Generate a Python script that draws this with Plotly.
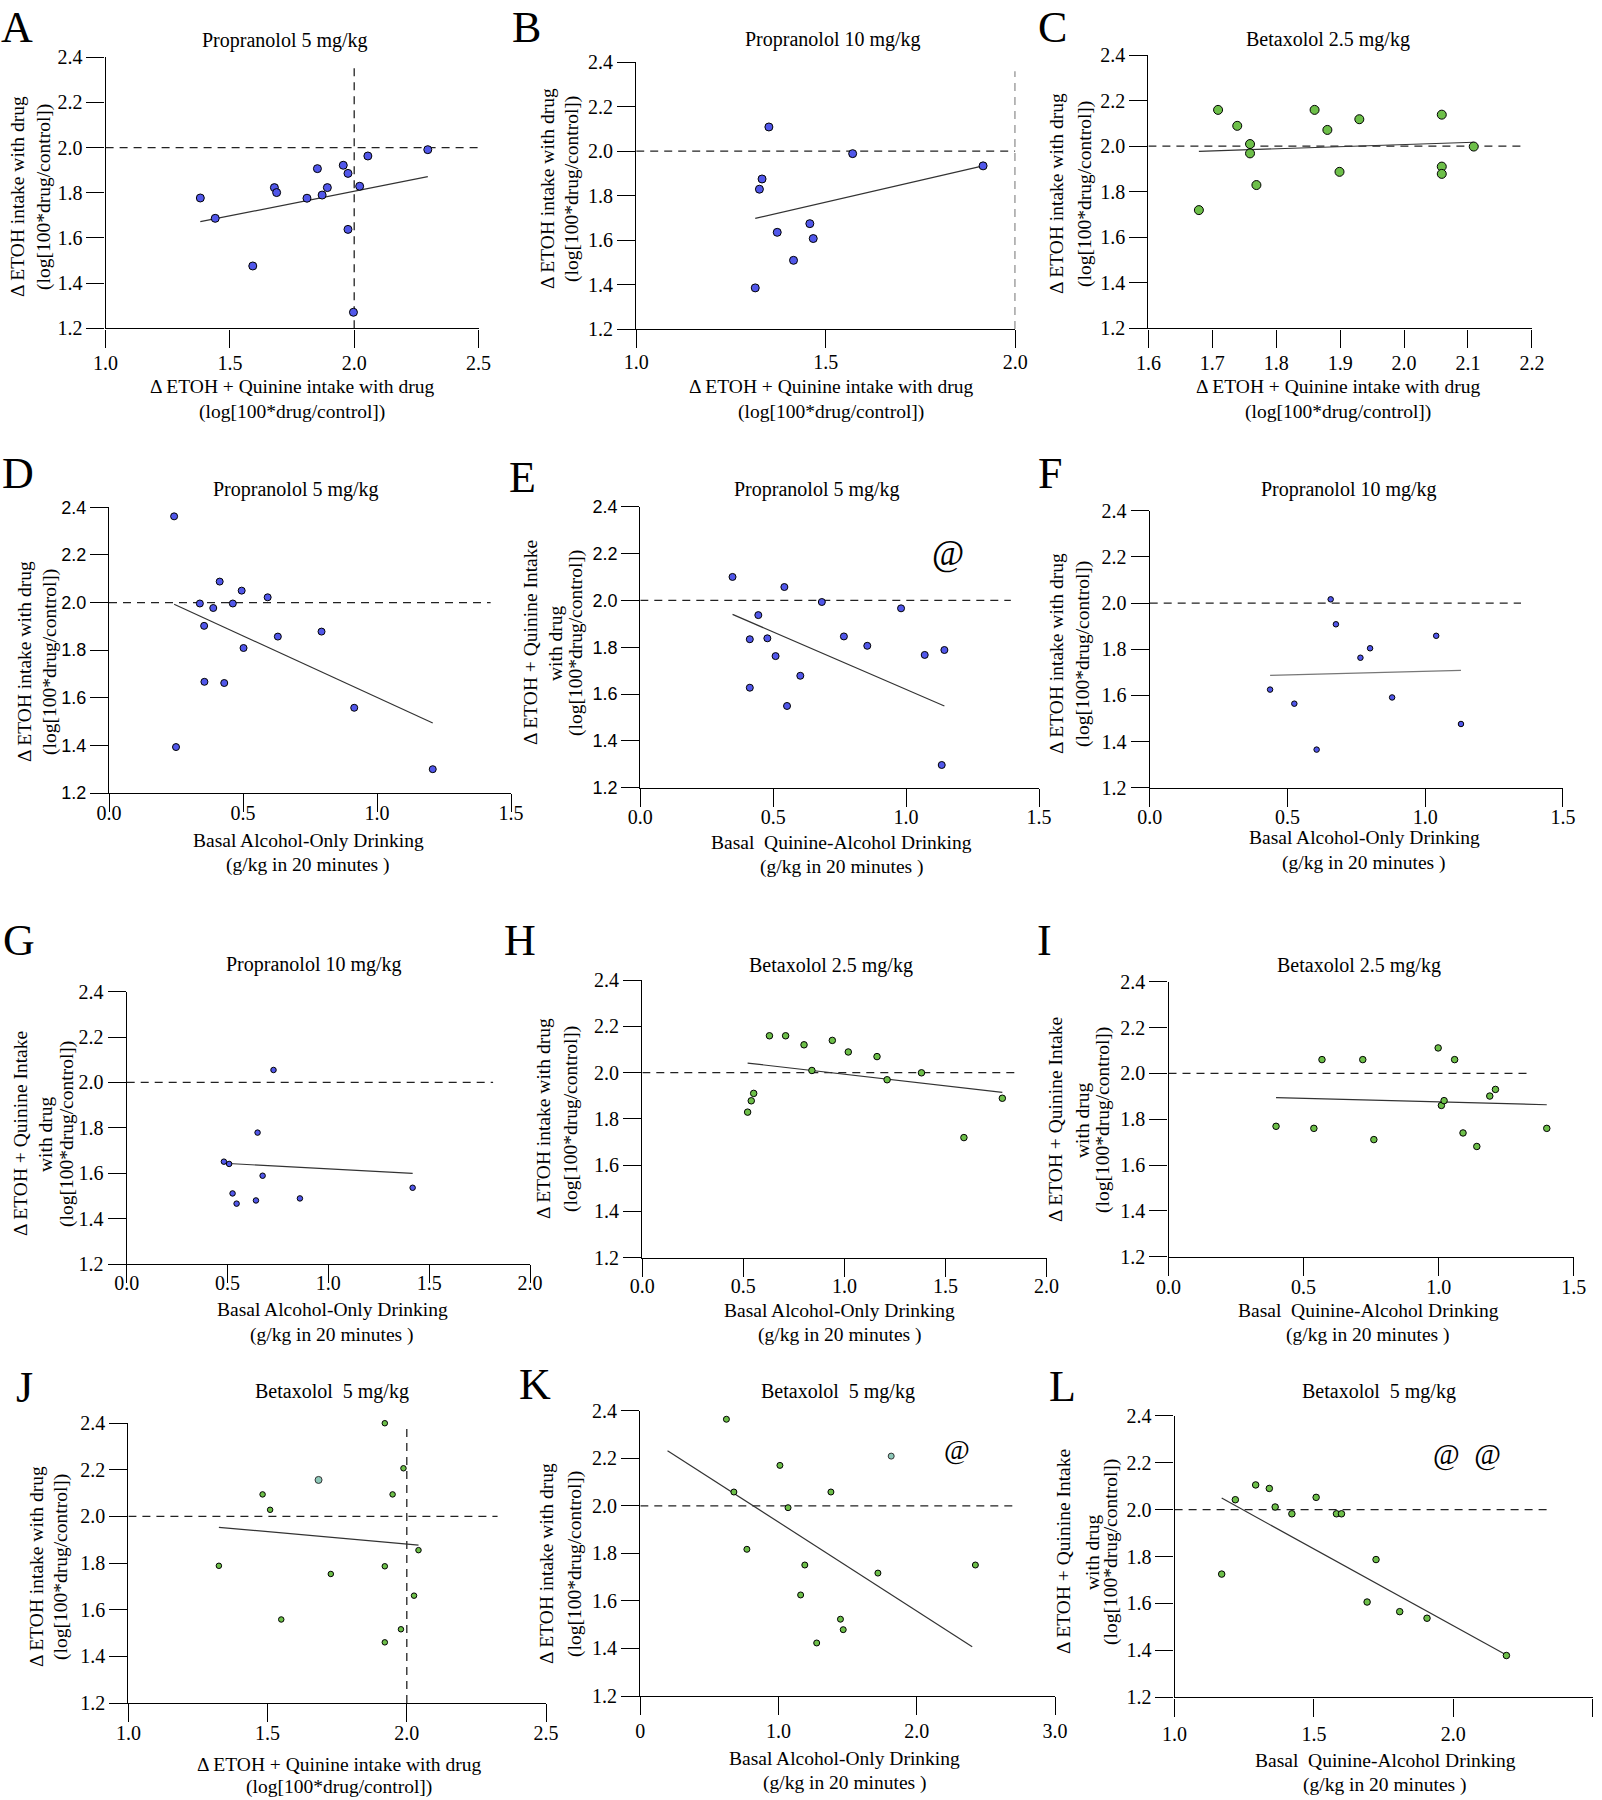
import plotly.graph_objects as go

# ---- values (log[100*drug/control] vs drinking) ----
REF_LEVEL = 2.0          # "no change" dashed line
Y_TICKS = [1.2, 1.4, 1.6, 1.8, 2.0, 2.2, 2.4]
Y_LABELS = ["1.2", "1.4", "1.6", "1.8", "2.0", "2.2", "2.4"]

A_X = [1.381, 1.441, 1.592, 1.679, 1.688, 1.810, 1.852, 1.871, 1.892, 1.956, 1.975, 1.975, 2.022, 2.055, 1.997, 2.296]
A_Y = [1.777, 1.687, 1.476, 1.823, 1.801, 1.776, 1.907, 1.790, 1.823, 1.922, 1.886, 1.638, 1.829, 1.963, 1.271, 1.991]
A_FIT_X, A_FIT_Y = [1.381, 2.296], [1.672, 1.872]
A_HREF, A_VREF = [1.0, 2.5], [1.2, 2.36]

B_X = [1.350, 1.571, 1.332, 1.325, 1.372, 1.458, 1.467, 1.415, 1.314, 1.915]
B_Y = [2.109, 1.989, 1.875, 1.829, 1.635, 1.674, 1.607, 1.509, 1.385, 1.934]
B_FIT_X, B_FIT_Y = [1.314, 1.915], [1.698, 1.934]
B_HREF, B_VREF = [1.0, 2.0], [1.2, 2.36]

C_X = [1.679, 1.709, 1.739, 1.759, 1.759, 1.769, 1.860, 1.880, 1.930, 1.899, 2.059, 2.059, 2.059, 2.109]
C_Y = [1.719, 2.159, 2.089, 2.009, 1.968, 1.829, 2.159, 2.071, 2.118, 1.887, 2.138, 1.910, 1.878, 1.998]
C_FIT_X, C_FIT_Y = [1.679, 2.109], [1.977, 2.017]
C_HREF = [1.6, 2.183]

D_X = [0.243, 0.250, 0.339, 0.355, 0.356, 0.389, 0.413, 0.430, 0.462, 0.495, 0.502, 0.592, 0.630, 0.793, 0.915, 1.208]
D_Y = [2.362, 1.393, 1.996, 1.902, 1.667, 1.977, 2.088, 1.662, 1.996, 2.050, 1.809, 2.022, 1.857, 1.878, 1.558, 1.300]
D_FIT_X, D_FIT_Y = [0.243, 1.208], [1.993, 1.494]
D_HREF = [0.0, 1.424]

E_X = [0.347, 0.542, 0.683, 0.981, 0.444, 0.412, 0.478, 0.509, 0.766, 0.854, 1.070, 1.144, 0.602, 0.412, 0.552, 1.134]
E_Y = [2.100, 2.057, 1.993, 1.966, 1.937, 1.834, 1.838, 1.762, 1.846, 1.806, 1.767, 1.788, 1.678, 1.627, 1.549, 1.297]
E_FIT_X, E_FIT_Y = [0.347, 1.144], [1.940, 1.549]
E_HREF = [0.0, 1.394]

F_X = [0.657, 0.676, 0.765, 0.800, 1.040, 0.437, 0.525, 0.606, 0.880, 1.130]
F_Y = [2.016, 1.908, 1.763, 1.804, 1.858, 1.625, 1.564, 1.365, 1.591, 1.476]
F_FIT_X, F_FIT_Y = [0.437, 1.130], [1.687, 1.708]
F_HREF = [0.0, 1.348]

G_X = [0.728, 0.649, 0.482, 0.508, 0.674, 0.525, 0.545, 0.641, 0.859, 1.418]
G_Y = [2.055, 1.779, 1.651, 1.641, 1.589, 1.511, 1.466, 1.480, 1.489, 1.536]
G_FIT_X, G_FIT_Y = [0.482, 1.418], [1.644, 1.599]
G_HREF = [0.0, 1.817]

H_X = [0.521, 0.539, 0.551, 0.629, 0.709, 0.800, 0.839, 0.940, 1.019, 1.161, 1.211, 1.381, 1.591, 1.781]
H_Y = [1.829, 1.878, 1.910, 2.159, 2.159, 2.120, 2.009, 2.139, 2.089, 2.069, 1.969, 1.999, 1.719, 1.889]
H_FIT_X, H_FIT_Y = [0.521, 1.781], [2.041, 1.914]
H_HREF = [0.0, 1.848]

I_X = [0.398, 0.538, 0.568, 0.719, 0.760, 0.998, 1.059, 1.010, 1.020, 1.090, 1.141, 1.189, 1.210, 1.400]
I_Y = [1.769, 1.760, 2.060, 2.060, 1.711, 2.111, 2.060, 1.860, 1.881, 1.740, 1.681, 1.901, 1.930, 1.760]
I_FIT_X, I_FIT_Y = [0.398, 1.400], [1.894, 1.863]
I_HREF = [0.0, 1.339]

J_X = [1.921, 1.988, 1.482, 1.949, 1.509, 2.042, 1.325, 1.921, 1.727, 2.026, 1.549, 1.979, 1.921]
J_Y = [2.399, 2.206, 2.094, 2.094, 2.028, 1.855, 1.788, 1.786, 1.753, 1.660, 1.558, 1.516, 1.460]
J_ODD_X, J_ODD_Y = [1.683], [2.156]
J_FIT_X, J_FIT_Y = [1.325, 2.042], [1.953, 1.877]
J_HREF, J_VREF = [1.0, 2.326], [1.2, 2.39]

K_X = [0.623, 0.677, 0.771, 1.010, 1.069, 1.379, 1.190, 1.160, 1.276, 1.448, 1.468, 1.719, 2.424]
K_Y = [2.364, 2.058, 1.817, 2.170, 1.992, 2.058, 1.751, 1.625, 1.423, 1.523, 1.479, 1.717, 1.751]
K_ODD_X, K_ODD_Y = [1.815], [2.209]
K_FIT_X, K_FIT_Y = [0.197, 2.401], [2.232, 1.407]
K_HREF = [0.0, 2.704]

L_X = [1.169, 1.218, 1.291, 1.340, 1.361, 1.421, 1.508, 1.581, 1.599, 1.723, 1.691, 1.808, 1.906, 2.191]
L_Y = [1.725, 2.042, 2.105, 2.090, 2.011, 1.982, 2.052, 1.982, 1.982, 1.787, 1.606, 1.565, 1.537, 1.378]
L_FIT_X, L_FIT_Y = [1.169, 2.191], [2.049, 1.380]
L_HREF = [1.0, 2.337]

# axis ticks
T_10_25 = ([1.0, 1.5, 2.0, 2.5], ["1.0", "1.5", "2.0", "2.5"])
T_10_20 = ([1.0, 1.5, 2.0], ["1.0", "1.5", "2.0"])
T_16_22 = ([1.6, 1.7, 1.8, 1.9, 2.0, 2.1, 2.2], ["1.6", "1.7", "1.8", "1.9", "2.0", "2.1", "2.2"])
T_00_15 = ([0.0, 0.5, 1.0, 1.5], ["0.0", "0.5", "1.0", "1.5"])
T_00_20 = ([0.0, 0.5, 1.0, 1.5, 2.0], ["0.0", "0.5", "1.0", "1.5", "2.0"])
T_0_30 = ([0.0, 1.0, 2.0, 3.0], ["0", "1.0", "2.0", "3.0"])

# text
T_ETOH = "Δ ETOH intake with drug"
T_LOG = "(log[100*drug/control])"
T_QI = "Δ ETOH + Quinine Intake"
T_WD = "with drug"
T_QX = "Δ ETOH + Quinine intake with drug"
T_ALC = "Basal Alcohol-Only Drinking"
T_QAL = "Basal\u00a0 Quinine-Alcohol Drinking"
T_GKG = "(g/kg in 20 minutes )"

W, H = 1602, 1800
SERIF = "Liberation Serif, Times New Roman, serif"
SANS = "Liberation Sans, Arial, sans-serif"
BLUE = "#5157ea"
GREEN = "#6dbf49"
TEAL = "#8cc8b8"


def fx(v):
    return v / W


def fy(v):
    return 1 - v / H


# box = (left, right, top, bottom) in pixels; sx = x tick label standoff
panels = [
    dict(let="A", lp=(17, 27), box=(105.6, 478.5, 57.3, 328.3), xr=[1.0, 2.5], xt=T_10_25, sx=-2,
         x=A_X, y=A_Y, fx=A_FIT_X, fy=A_FIT_Y, h=A_HREF, v=A_VREF, c=BLUE, ms=8,
         title=("Propranolol 5 mg/kg", 285, 40), yt=([T_ETOH, T_LOG], [17, 44], 197),
         xtl=([T_QX, T_LOG], 292, [386, 412]), yf=SERIF),
    dict(let="B", lp=(526, 27), box=(636.2, 1015.3, 62.3, 329.0), xr=[1.0, 2.0], xt=T_10_20, sx=-3,
         x=B_X, y=B_Y, fx=B_FIT_X, fy=B_FIT_Y, h=B_HREF, v=B_VREF, c=BLUE, ms=8,
         title=("Propranolol 10 mg/kg", 833, 39), yt=([T_ETOH, T_LOG], [548, 572], 189),
         xtl=([T_QX, T_LOG], 831, [386, 412]), yf=SERIF),
    dict(let="C", lp=(1052, 27), box=(1148.4, 1531.9, 55.0, 328.3), xr=[1.6, 2.2], xt=T_16_22, sx=-2,
         x=C_X, y=C_Y, fx=C_FIT_X, fy=C_FIT_Y, h=C_HREF, v=None, c=GREEN, ms=9,
         title=("Betaxolol 2.5 mg/kg", 1328, 39), yt=([T_ETOH, T_LOG], [1057, 1085], 194),
         xtl=([T_QX, T_LOG], 1338, [386, 412]), yf=SERIF),
    dict(let="D", lp=(18, 474), box=(109, 511, 507.3, 793.0), xr=[0.0, 1.5], xt=T_00_15, sx=-16,
         x=D_X, y=D_Y, fx=D_FIT_X, fy=D_FIT_Y, h=D_HREF, v=None, c=BLUE, ms=7,
         title=("Propranolol 5 mg/kg", 296, 489), yt=([T_ETOH, T_LOG], [24, 50], 662),
         xtl=([T_ALC, T_GKG], 308, [840, 865]), yf=SANS),
    dict(let="E", lp=(522, 477), box=(640.3, 1039, 506.7, 787.7), xr=[0.0, 1.5], xt=T_00_15, sx=-7,
         x=E_X, y=E_Y, fx=E_FIT_X, fy=E_FIT_Y, h=E_HREF, v=None, c=BLUE, ms=7,
         title=("Propranolol 5 mg/kg", 817, 489), yt=([T_QI, T_WD, T_LOG], [530, 555, 576], 643),
         xtl=([T_QAL, T_GKG], 842, [843, 867]), yf=SANS, at=("@", 948, 554, 35)),
    dict(let="F", lp=(1050, 473), box=(1149.7, 1562.9, 510.7, 787.7), xr=[0.0, 1.5], xt=T_00_15, sx=-7,
         x=F_X, y=F_Y, fx=F_FIT_X, fy=F_FIT_Y, h=F_HREF, v=None, c=BLUE, ms=5.5,
         title=("Propranolol 10 mg/kg", 1349, 489), yt=([T_ETOH, T_LOG], [1057, 1083], 654),
         xtl=([T_ALC, T_GKG], 1364, [838, 863]), yf=SERIF, fitc="#777777"),
    dict(let="G", lp=(19, 940), box=(126.7, 530, 991.7, 1264.0), xr=[0.0, 2.0], xt=T_00_20, sx=-17,
         x=G_X, y=G_Y, fx=G_FIT_X, fy=G_FIT_Y, h=G_HREF, v=None, c=BLUE, ms=5.5,
         title=("Propranolol 10 mg/kg", 314, 964), yt=([T_QI, T_WD, T_LOG], [20, 45, 67], 1134),
         xtl=([T_ALC, T_GKG], 332, [1309, 1335]), yf=SERIF),
    dict(let="H", lp=(520, 940), box=(642.3, 1046.6, 980.0, 1257.7), xr=[0.0, 2.0], xt=T_00_20, sx=-8,
         x=H_X, y=H_Y, fx=H_FIT_X, fy=H_FIT_Y, h=H_HREF, v=None, c=GREEN, ms=6.5,
         title=("Betaxolol 2.5 mg/kg", 831, 965), yt=([T_ETOH, T_LOG], [543, 571], 1119),
         xtl=([T_ALC, T_GKG], 840, [1310, 1335]), yf=SERIF),
    dict(let="I", lp=(1044, 940), box=(1168.5, 1573.8, 981.7, 1256.7), xr=[0.0, 1.5], xt=T_00_15, sx=-6,
         x=I_X, y=I_Y, fx=I_FIT_X, fy=I_FIT_Y, h=I_HREF, v=None, c=GREEN, ms=6.5,
         title=("Betaxolol 2.5 mg/kg", 1359, 965), yt=([T_QI, T_WD, T_LOG], [1055, 1082, 1103], 1120),
         xtl=([T_QAL, T_GKG], 1368, [1310, 1335]), yf=SERIF),
    dict(let="J", lp=(24, 1387), box=(128.4, 546, 1423.0, 1703.0), xr=[1.0, 2.5], xt=T_10_25, sx=-6,
         x=J_X, y=J_Y, fx=J_FIT_X, fy=J_FIT_Y, h=J_HREF, v=J_VREF, c=GREEN, ms=5.5,
         ox=J_ODD_X, oy=J_ODD_Y, oms=7,
         title=("Betaxolol\u00a0 5 mg/kg", 332, 1391), yt=([T_ETOH, T_LOG], [36, 61], 1567),
         xtl=([T_QX, T_LOG], 339, [1764, 1787]), yf=SERIF),
    dict(let="K", lp=(535, 1384), box=(640.3, 1055, 1410.7, 1696.0), xr=[0.0, 3.0], xt=T_0_30, sx=-1,
         x=K_X, y=K_Y, fx=K_FIT_X, fy=K_FIT_Y, h=K_HREF, v=None, c=GREEN, ms=6,
         ox=K_ODD_X, oy=K_ODD_Y, oms=6,
         title=("Betaxolol\u00a0 5 mg/kg", 838, 1391), yt=([T_ETOH, T_LOG], [546, 575], 1564),
         xtl=([T_ALC, T_GKG], 845, [1758, 1783]), yf=SERIF, at=("@", 957, 1449, 28)),
    dict(let="L", lp=(1062, 1386), box=(1174.6, 1592.5, 1415.7, 1697.3), xr=[1.0, 2.5], xt=T_10_25, sx=0,
         x=L_X, y=L_Y, fx=L_FIT_X, fy=L_FIT_Y, h=L_HREF, v=None, c=GREEN, ms=6.5,
         title=("Betaxolol\u00a0 5 mg/kg", 1379, 1391), yt=([T_QI, T_WD, T_LOG], [1063, 1092, 1111], 1552),
         xtl=([T_QAL, T_GKG], 1385, [1760, 1785]), yf=SERIF, at=("@\u00a0 @", 1467, 1454, 29)),
]

fig = go.Figure()
annotations = []
layout = {}

for i, p in enumerate(panels, 1):
    sfx = "" if i == 1 else str(i)
    xa, ya = "x" + sfx, "y" + sfx
    left, right, top, bottom = p["box"]

    # dashed reference lines
    fig.add_trace(go.Scatter(x=p["h"], y=[REF_LEVEL, REF_LEVEL], mode="lines",
                             line=dict(color="#222222", width=1.3, dash="8px,6px"),
                             xaxis=xa, yaxis=ya, showlegend=False, hoverinfo="skip"))
    if p["v"] is not None:
        fig.add_trace(go.Scatter(x=[REF_LEVEL, REF_LEVEL], y=p["v"], mode="lines",
                                 line=dict(color="#222222", width=1.3, dash="8px,6px"),
                                 xaxis=xa, yaxis=ya, showlegend=False, hoverinfo="skip"))
    # regression line
    fig.add_trace(go.Scatter(x=p["fx"], y=p["fy"], mode="lines",
                             line=dict(color=p.get("fitc", "#333333"), width=1.2),
                             xaxis=xa, yaxis=ya, showlegend=False, hoverinfo="skip"))
    # points
    fig.add_trace(go.Scatter(x=p["x"], y=p["y"], mode="markers", cliponaxis=False,
                             marker=dict(size=p["ms"], color=p["c"], line=dict(color="black", width=1)),
                             xaxis=xa, yaxis=ya, showlegend=False))
    if "ox" in p:
        fig.add_trace(go.Scatter(x=p["ox"], y=p["oy"], mode="markers", cliponaxis=False,
                                 marker=dict(size=p["oms"], color=TEAL, line=dict(color="#333333", width=1)),
                                 xaxis=xa, yaxis=ya, showlegend=False))

    common = dict(showline=True, linecolor="black", linewidth=1.4, ticks="outside", ticklen=18,
                  tickwidth=1.4, tickcolor="black", showgrid=False, zeroline=False,
                  tickmode="array", fixedrange=True, automargin=False)
    layout["xaxis" + sfx] = dict(domain=[fx(left), fx(right)], range=p["xr"], anchor=ya,
                                 tickvals=p["xt"][0], ticktext=p["xt"][1], ticklabelstandoff=p["sx"],
                                 tickfont=dict(family=SERIF, size=20, color="black"), **common)
    layout["yaxis" + sfx] = dict(domain=[fy(bottom), fy(top)], range=[1.2, 2.4], anchor=xa,
                                 tickvals=Y_TICKS, ticktext=Y_LABELS,
                                 tickfont=dict(family=p["yf"], size=20 if p["yf"] == SERIF else 18,
                                               color="black"), **common)

    # panel letter
    annotations.append(dict(text=p["let"], x=fx(p["lp"][0]), y=fy(p["lp"][1]), xref="paper", yref="paper",
                            showarrow=False, xanchor="center", yanchor="middle",
                            font=dict(family=SERIF, size=44, color="black")))
    # panel title
    t, tx, ty = p["title"]
    annotations.append(dict(text=t, x=fx(tx), y=fy(ty), xref="paper", yref="paper", showarrow=False,
                            xanchor="center", yanchor="middle", font=dict(family=SERIF, size=20, color="black")))
    # y-axis title, one annotation per line
    lines, xs, yc = p["yt"]
    for line, lx in zip(lines, xs):
        annotations.append(dict(text=line, x=fx(lx), y=fy(yc), xref="paper", yref="paper", showarrow=False,
                                textangle=-90, xanchor="center", yanchor="middle",
                                font=dict(family=SERIF, size=19.5, color="black")))
    # x-axis title
    lines, cx, ys = p["xtl"]
    for line, ly in zip(lines, ys):
        annotations.append(dict(text=line, x=fx(cx), y=fy(ly), xref="paper", yref="paper", showarrow=False,
                                xanchor="center", yanchor="middle",
                                font=dict(family=SERIF, size=19.5, color="black")))
    # significance marks
    if "at" in p:
        s, ax_, ay_, fs = p["at"]
        annotations.append(dict(text=s, x=fx(ax_), y=fy(ay_), xref="paper", yref="paper", showarrow=False,
                                xanchor="center", yanchor="middle",
                                font=dict(family=SERIF, size=fs, color="black")))

fig.update_layout(width=W, height=H,
                  margin=dict(l=0, r=0, t=0, b=0, autoexpand=False),
                  paper_bgcolor="white", plot_bgcolor="white",
                  annotations=annotations, **layout)

# page body margin off, so the figure sits at the window's top-left corner
fig.write_html("out.html", config={"displayModeBar": False},
               post_script="document.body.style.margin='0px';document.documentElement.style.overflow='hidden';")
